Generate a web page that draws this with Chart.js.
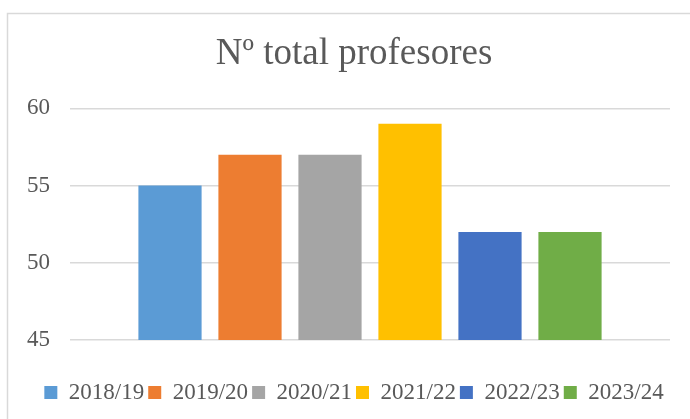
<!DOCTYPE html>
<html>
<head>
<meta charset="utf-8">
<script src="https://cdn.jsdelivr.net/npm/chart.js@4/dist/chart.umd.min.js"></script>
<style>
  html, body { margin: 0; padding: 0; background: #fff; }
  #wrap { width: 690px; height: 419px; position: relative; }
</style>
</head>
<body>
<div id="wrap"><canvas id="c" width="690" height="419"></canvas></div>
<script>
const categories = [""];
const seriesNames = ["2018/19", "2019/20", "2020/21", "2021/22", "2022/23", "2023/24"];
const seriesValues = [55, 57, 57, 59, 52, 52];
const seriesColors = ["#5B9BD5", "#ED7D31", "#A5A5A5", "#FFC000", "#4472C4", "#70AD47"];
const yTicks = [45, 50, 55, 60];
const titleText = "Nº total profesores";

const FONT = "'Liberation Serif', 'Times New Roman', serif";
const TEXT = "#595959";

const frame = {
  id: 'frame',
  beforeDraw(chart) {
    const ctx = chart.ctx;
    ctx.save();
    ctx.fillStyle = '#fff';
    ctx.fillRect(0, 0, chart.width, chart.height);
    ctx.strokeStyle = '#d9d9d9';
    ctx.lineWidth = 1.5;
    ctx.strokeRect(7.5, 13.5, 720, 440);
    ctx.restore();
  }
};

new Chart(document.getElementById('c'), {
  type: 'bar',
  data: {
    labels: categories,
    datasets: seriesNames.map((n, i) => ({
      label: n,
      data: [seriesValues[i]],
      backgroundColor: seriesColors[i],
      borderWidth: 0,
      categoryPercentage: 0.8,
      barPercentage: 0.79,
      yAxisID: 'y'
    }))
  },
  options: {
    responsive: false,
    animation: false,
    devicePixelRatio: 1,
    layout: { padding: { left: 8, right: -10, top: 0, bottom: 5 } },
    plugins: {
      title: {
        display: true,
        text: titleText,
        color: TEXT,
        font: { family: FONT, size: 37, weight: 'normal' },
        padding: { top: 32, bottom: 32 }
      },
      legend: {
        position: 'bottom',
        labels: {
          color: TEXT,
          font: { family: FONT, size: 23 },
          boxWidth: 13,
          boxHeight: 13,
          padding: 4
        }
      },
      tooltip: { enabled: false }
    },
    scales: {
      x: {
        ticks: { display: false },
        grid: { display: false },
        border: { display: false },
        afterFit(scale) { scale.height = 37; }
      },
      y: {
        position: 'left',
        min: 45,
        max: 60,
        afterBuildTicks(scale) { scale.ticks = yTicks.map(v => ({ value: v })); },
        afterFit(scale) { scale.width = 62; },
        ticks: {
          color: TEXT,
          font: { family: FONT, size: 23 },
          padding: 20
        },
        grid: { color: '#d9d9d9', lineWidth: 1.5, drawTicks: false },
        border: { display: false }
      },
      yRight: {
        position: 'right',
        min: 45,
        max: 60,
        ticks: { display: false },
        grid: { display: false },
        border: { display: false },
        afterFit(scale) { scale.width = 30; }
      }
    }
  },
  plugins: [frame]
});
</script>
</body>
</html>
